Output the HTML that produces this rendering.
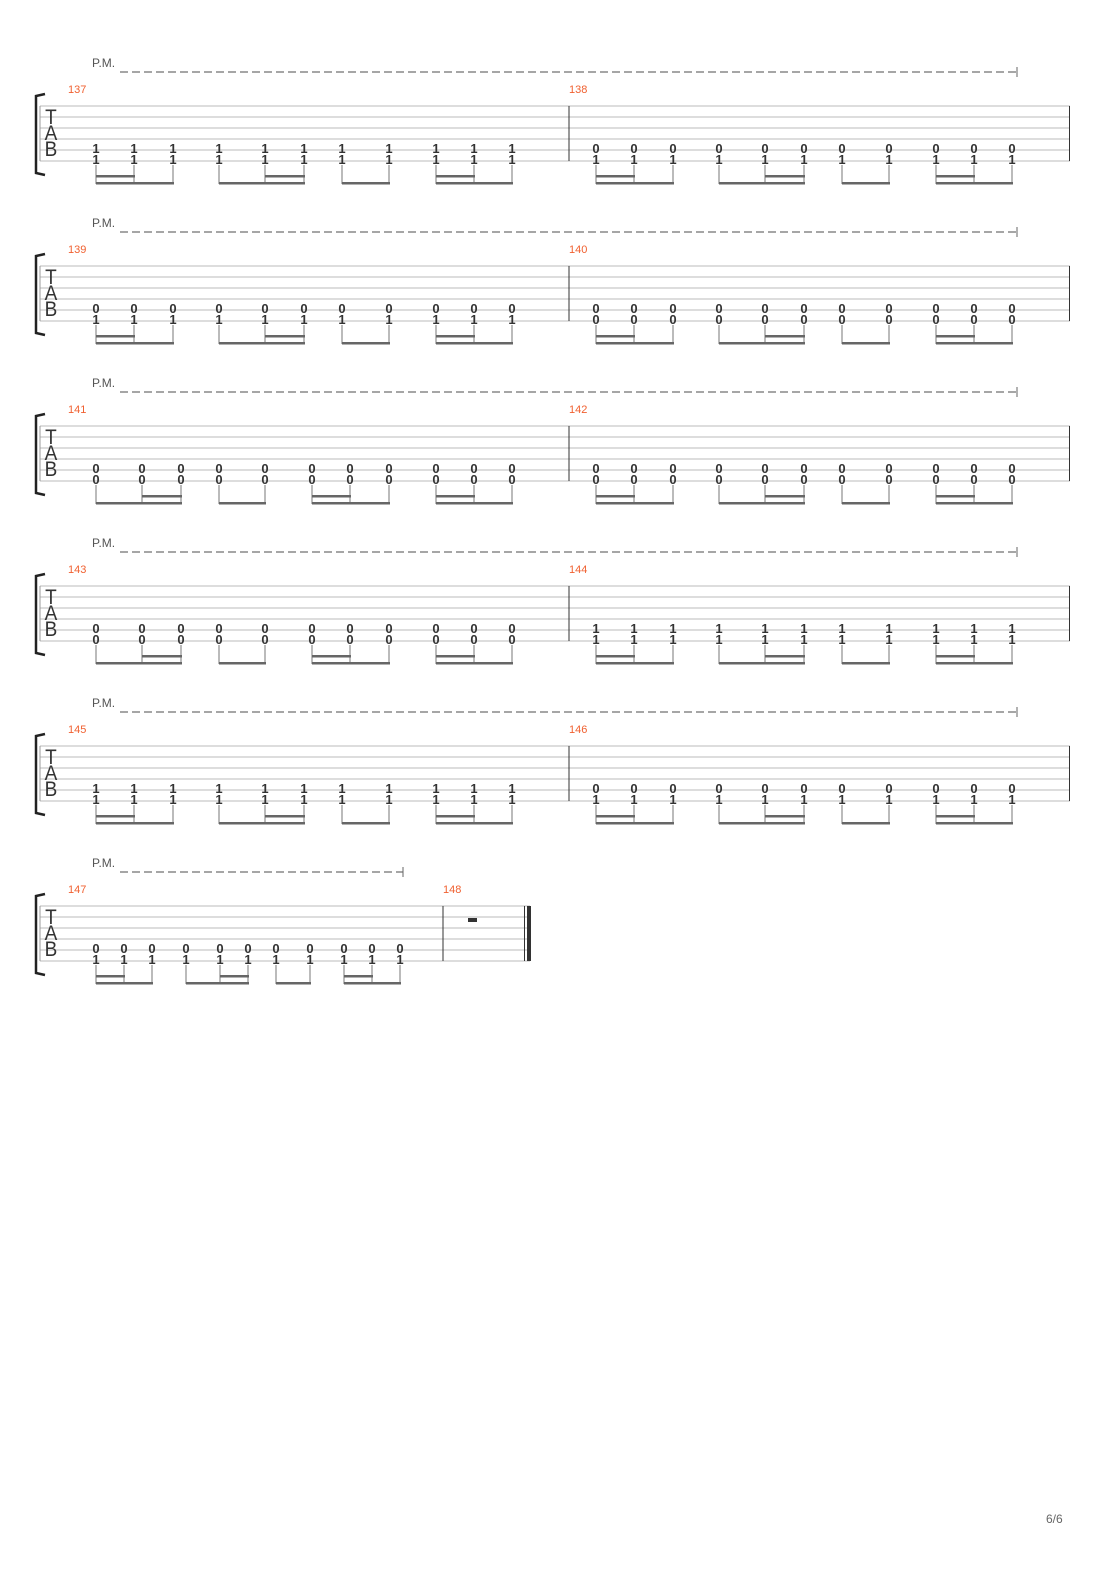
<!DOCTYPE html>
<html><head><meta charset="utf-8"><style>
body{margin:0;background:#fff;}
svg{display:block;}
text{font-family:"Liberation Sans",sans-serif;}
</style></head><body>
<svg id="s" width="1110" height="1570" xmlns="http://www.w3.org/2000/svg"></svg>
<script>
(function(){
const s=document.getElementById('s');let h='';
const A=[96,134,173,219,265,304,342,389,436,474,512];
const B=[96,142,181,219,265,312,350,389,436,474,512];
const C=[96,124,152,186,220,248,276,310,344,372,400];
const gA=[[0,3,0],[3,6,1],[6,8,-1],[8,11,0]];
const gB=[[0,3,1],[3,5,-1],[5,8,0],[8,11,0]];
const gC=[[0,3,0],[3,6,1],[6,8,-1],[8,11,0]];
function meas(xs,groups,off,T,up,lo){
  xs=xs.map(x=>x+off);
  xs.forEach(x=>{
    h+=`<text x="${x}" y="${T+47}" font-size="13" font-weight="bold" text-anchor="middle" fill="#333">${up}</text>`;
    h+=`<text x="${x}" y="${T+58}" font-size="13" font-weight="bold" text-anchor="middle" fill="#333">${lo}</text>`;
    h+=`<line x1="${x}" y1="${T+59}" x2="${x}" y2="${T+78}" stroke="#777" stroke-width="1"/>`;
  });
  groups.forEach(g=>{
    const a=xs[g[0]],b=xs[g[1]-1];
    h+=`<rect x="${a}" y="${T+76}" width="${b-a+1}" height="2.5" fill="#666"/>`;
    if(g[2]>=0){const c=xs[g[0]+g[2]],d=xs[g[0]+g[2]+1];h+=`<rect x="${c}" y="${T+69}" width="${d-c+1}" height="2.5" fill="#666"/>`;}
  });
}
const sys=[[137,[1,1],[0,1],0],[139,[0,1],[0,0],0],[141,[0,0],[0,0],1],[143,[0,0],[1,1],1],[145,[1,1],[0,1],0]];
function staff(T,end){
  for(let i=0;i<6;i++)h+=`<line x1="40" y1="${T+i*11}" x2="${end}" y2="${T+i*11}" stroke="#bbb" stroke-width="1"/>`;
  h+=`<line x1="40" y1="${T}" x2="40" y2="${T+55}" stroke="#999"/>`;
  h+=`<path d="M45 ${T-12} L36 ${T-10} L36 ${T+67} L45 ${T+69}" fill="none" stroke="#222" stroke-width="2.5"/>`;
  h+=`<text x="51" y="${T+18}" font-size="19" text-anchor="middle" fill="#333" transform="translate(0 ${-(T+18)*0.1}) scale(1 1.1)">T</text>`;
  h+=`<text x="51" y="${T+34}" font-size="19" text-anchor="middle" fill="#333" transform="translate(0 ${-(T+34)*0.1}) scale(1 1.1)">A</text>`;
  h+=`<text x="51" y="${T+50}" font-size="19" text-anchor="middle" fill="#333" transform="translate(0 ${-(T+50)*0.1}) scale(1 1.1)">B</text>`;
}
function pm(T,end){
  const y=T-34;
  h+=`<text x="92" y="${T-39}" font-size="12" fill="#555">P.M.</text>`;
  h+=`<line x1="120" y1="${y}" x2="${end}" y2="${y}" stroke="#888" stroke-width="1.5" stroke-dasharray="8,4"/>`;
  h+=`<line x1="${end}" y1="${y-5}" x2="${end}" y2="${y+5}" stroke="#666"/>`;
}
sys.forEach((d,i)=>{
  const T=106+i*160;
  staff(T,1070);pm(T,1017);
  h+=`<text x="68" y="${T-13}" font-size="11" fill="#f06030">${d[0]}</text>`;
  h+=`<text x="569" y="${T-13}" font-size="11" fill="#f06030">${d[0]+1}</text>`;
  h+=`<line x1="569" y1="${T}" x2="569" y2="${T+55}" stroke="#333"/>`;
  h+=`<line x1="1069.5" y1="${T}" x2="1069.5" y2="${T+55}" stroke="#333"/>`;
  meas(d[3]?B:A,d[3]?gB:gA,0,T,d[1][0],d[1][1]);
  meas(A,gA,500,T,d[2][0],d[2][1]);
});
const T=906;
staff(T,530);pm(T,403);
h+=`<text x="68" y="${T-13}" font-size="11" fill="#f06030">147</text>`;
h+=`<text x="443" y="${T-13}" font-size="11" fill="#f06030">148</text>`;
h+=`<line x1="443" y1="${T}" x2="443" y2="${T+55}" stroke="#333"/>`;
h+=`<line x1="524.5" y1="${T}" x2="524.5" y2="${T+55}" stroke="#333"/>`;
h+=`<rect x="527" y="${T}" width="4" height="55" fill="#333"/>`;
h+=`<rect x="468" y="${T+12}" width="9" height="4" fill="#333"/>`;
meas(C,gC,0,T,0,1);
h+=`<text x="1046" y="1523" font-size="12" fill="#666">6/6</text>`;
s.innerHTML=h;
})();
</script>
</body></html>
